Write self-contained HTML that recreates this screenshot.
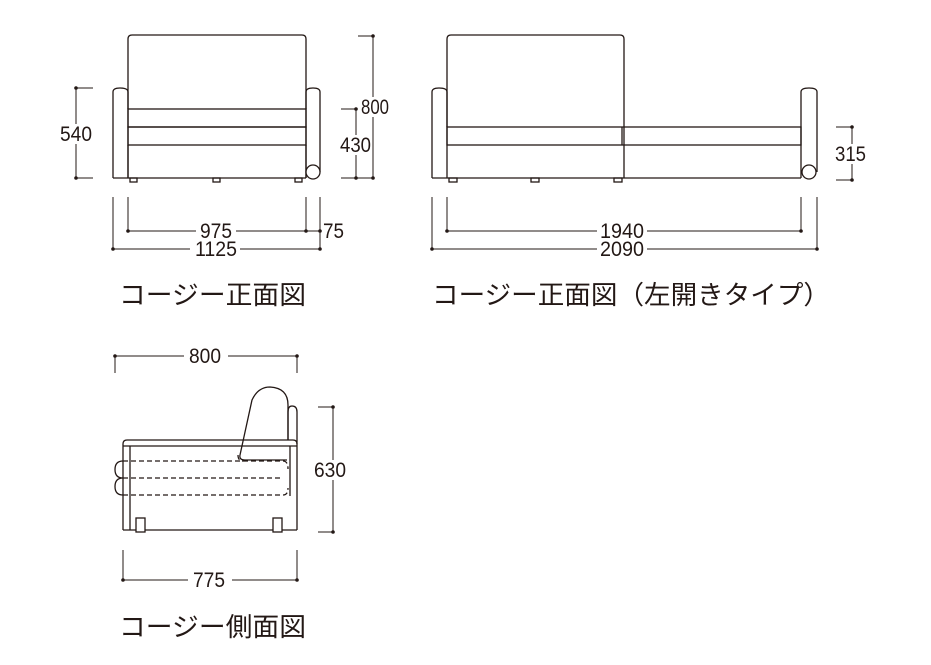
<!DOCTYPE html>
<html><head><meta charset="utf-8"><style>
html,body{margin:0;padding:0;background:#fff;}
svg{display:block;}
.n{font-family:"Liberation Sans",sans-serif;font-size:21px;fill:#231815;}
.j{font-family:"Liberation Sans","Noto Sans CJK JP",sans-serif;font-size:26px;fill:#231815;}
</style></head><body>
<svg width="931" height="665" viewBox="0 0 931 665" xmlns="http://www.w3.org/2000/svg">
<g fill="none" stroke="#231815" stroke-width="1.3">
<path d="M128,109 V39 Q128,35 132,35 H302 Q306,35 306,39 V109"/>
<path d="M113,178 V92 Q113,88 120,88 Q128,88 128,92 V178"/>
<path d="M306,178 V92 Q306,88 313,88 Q320,88 320,92 V172"/>
<rect x="128" y="109" width="178" height="18"/>
<rect x="128" y="127" width="178" height="18"/>
<line x1="128" y1="145" x2="128" y2="178"/><line x1="306" y1="145" x2="306" y2="178"/>
<line x1="113" y1="178" x2="306" y2="178"/>
<circle cx="313" cy="172" r="7" fill="#fff"/>
<rect x="130" y="178" width="7" height="4"/><rect x="213" y="178" width="7" height="4"/><rect x="295" y="178" width="7" height="4"/>
<path d="M447,127 V39 Q447,35 451,35 H620 Q624,35 624,39 V127"/>
<path d="M432,178 V92 Q432,88 439,88 Q447,88 447,92 V178"/>
<path d="M801,178 V92 Q801,88 809,88 Q817,88 817,92 V172"/>
<rect x="447" y="127" width="354" height="18"/>
<line x1="624" y1="127" x2="624" y2="178"/><line x1="622" y1="127" x2="622" y2="145"/>
<line x1="432" y1="178" x2="801" y2="178"/>
<circle cx="809" cy="172" r="7" fill="#fff"/>
<rect x="449" y="178" width="8" height="4"/><rect x="531" y="178" width="8" height="4"/><rect x="614" y="178" width="8" height="4"/>
<path d="M240,455 L252,400 Q258,387 270,387 Q288,388 288,405 V440"/>
<path d="M240,455 Q239,460 245,460 H287"/>
<path d="M288,440 V412 Q288,406 292,406 Q297,406 297,412 V530"/>
<path d="M123,530 V444 Q123,440 127,440 H293 Q297,440 297,444"/>
<line x1="123" y1="446" x2="297" y2="446"/>
<line x1="130" y1="446" x2="130" y2="530"/>
<line x1="290" y1="446" x2="290" y2="496"/>
<line x1="123" y1="530" x2="297" y2="530"/>
<path d="M123,461 Q115,461 115,469.5 Q115,478 123,478 Q115,478 115,486.5 Q115,495 123,495"/>
<g stroke-dasharray="5,3">
<path d="M123,461 H283 Q288,461 288,469"/>
<path d="M123,478 H283"/>
<path d="M123,495 H283 Q288,495 288,488"/>
<path d="M238,455 Q238,461 243,461"/>
</g>
<rect x="136" y="518" width="9" height="14" fill="#fff"/><rect x="273" y="518" width="9" height="14" fill="#fff"/>
</g>
<g fill="none" stroke="#231815" stroke-width="1">
<path d="M76,88 V178 M76,88 H93 M76,178 H93"/>
<path d="M373,36 V178 M358,36 H373 M356,178 H373"/>
<path d="M356,109 V178 M341,109 H356 M341,178 H356"/>
<path d="M113,197 V249 M128,197 V231 M306,197 V231 M320,197 V249"/>
<path d="M128,231 H306 M306,231 H320 M113,249 H320"/>
<path d="M852,127 V180 M836,127 H852 M836,180 H852"/>
<path d="M432,197 V249 M447,197 V231 M801,197 V231 M817,197 V249"/>
<path d="M447,231 H801 M432,249 H817"/>
<path d="M115,356 H297 M115,356 V373 M297,356 V373"/>
<path d="M333,407 V532 M318,407 H333 M318,532 H333"/>
<path d="M123,550 V580 M297,550 V580 M123,580 H297"/>
</g>
<g fill="#231815">
<circle cx="76" cy="88" r="1.8"/><circle cx="76" cy="178" r="1.8"/>
<circle cx="373" cy="36" r="1.8"/><circle cx="373" cy="178" r="1.8"/><circle cx="356" cy="109" r="1.8"/><circle cx="356" cy="178" r="1.8"/>
<circle cx="128" cy="231" r="1.8"/><circle cx="306" cy="231" r="1.8"/><circle cx="320" cy="231" r="1.8"/><circle cx="113" cy="249" r="1.8"/><circle cx="320" cy="249" r="1.8"/>
<circle cx="852" cy="127" r="1.8"/><circle cx="852" cy="180" r="1.8"/>
<circle cx="447" cy="231" r="1.8"/><circle cx="801" cy="231" r="1.8"/><circle cx="432" cy="249" r="1.8"/><circle cx="817" cy="249" r="1.8"/>
<circle cx="115" cy="356" r="1.8"/><circle cx="297" cy="356" r="1.8"/>
<circle cx="333" cy="407" r="1.8"/><circle cx="333" cy="532" r="1.8"/>
<circle cx="123" cy="580" r="1.8"/><circle cx="297" cy="580" r="1.8"/>
</g>
<g fill="#fff">
<rect x="58" y="124" width="36" height="20"/>
<rect x="360" y="97" width="30" height="20"/>
<rect x="339" y="135" width="33" height="20"/>
<rect x="834" y="144" width="34" height="20"/>
<rect x="312" y="460" width="36" height="20"/>
<rect x="196" y="222" width="40" height="16"/><rect x="190" y="240" width="50" height="16"/>
<rect x="597" y="222" width="50" height="16"/><rect x="597" y="240" width="50" height="16"/>
<rect x="184" y="347" width="44" height="16"/><rect x="188" y="571" width="44" height="16"/>
</g>
<text class="n" x="60" y="141" textLength="32" lengthAdjust="spacingAndGlyphs">540</text>
<text class="n" x="361" y="114" textLength="28" lengthAdjust="spacingAndGlyphs">800</text>
<text class="n" x="340" y="152" textLength="31" lengthAdjust="spacingAndGlyphs">430</text>
<text class="n" x="200" y="238" textLength="32" lengthAdjust="spacingAndGlyphs">975</text>
<text class="n" x="323" y="238" textLength="21" lengthAdjust="spacingAndGlyphs">75</text>
<text class="n" x="195" y="256" textLength="42" lengthAdjust="spacingAndGlyphs">1125</text>
<text class="n" x="835" y="161" textLength="31" lengthAdjust="spacingAndGlyphs">315</text>
<text class="n" x="600" y="238" textLength="44" lengthAdjust="spacingAndGlyphs">1940</text>
<text class="n" x="600" y="256" textLength="44" lengthAdjust="spacingAndGlyphs">2090</text>
<text class="n" x="189" y="363" textLength="32" lengthAdjust="spacingAndGlyphs">800</text>
<text class="n" x="314" y="477" textLength="32" lengthAdjust="spacingAndGlyphs">630</text>
<text class="n" x="193" y="587" textLength="32" lengthAdjust="spacingAndGlyphs">775</text>
<text class="j" x="119" y="304" textLength="187" lengthAdjust="spacingAndGlyphs">コージー正面図</text>
<text class="j" x="432" y="304" textLength="398" lengthAdjust="spacingAndGlyphs">コージー正面図（左開きタイプ）</text>
<text class="j" x="119" y="636" textLength="187" lengthAdjust="spacingAndGlyphs">コージー側面図</text>
</svg>
</body></html>
